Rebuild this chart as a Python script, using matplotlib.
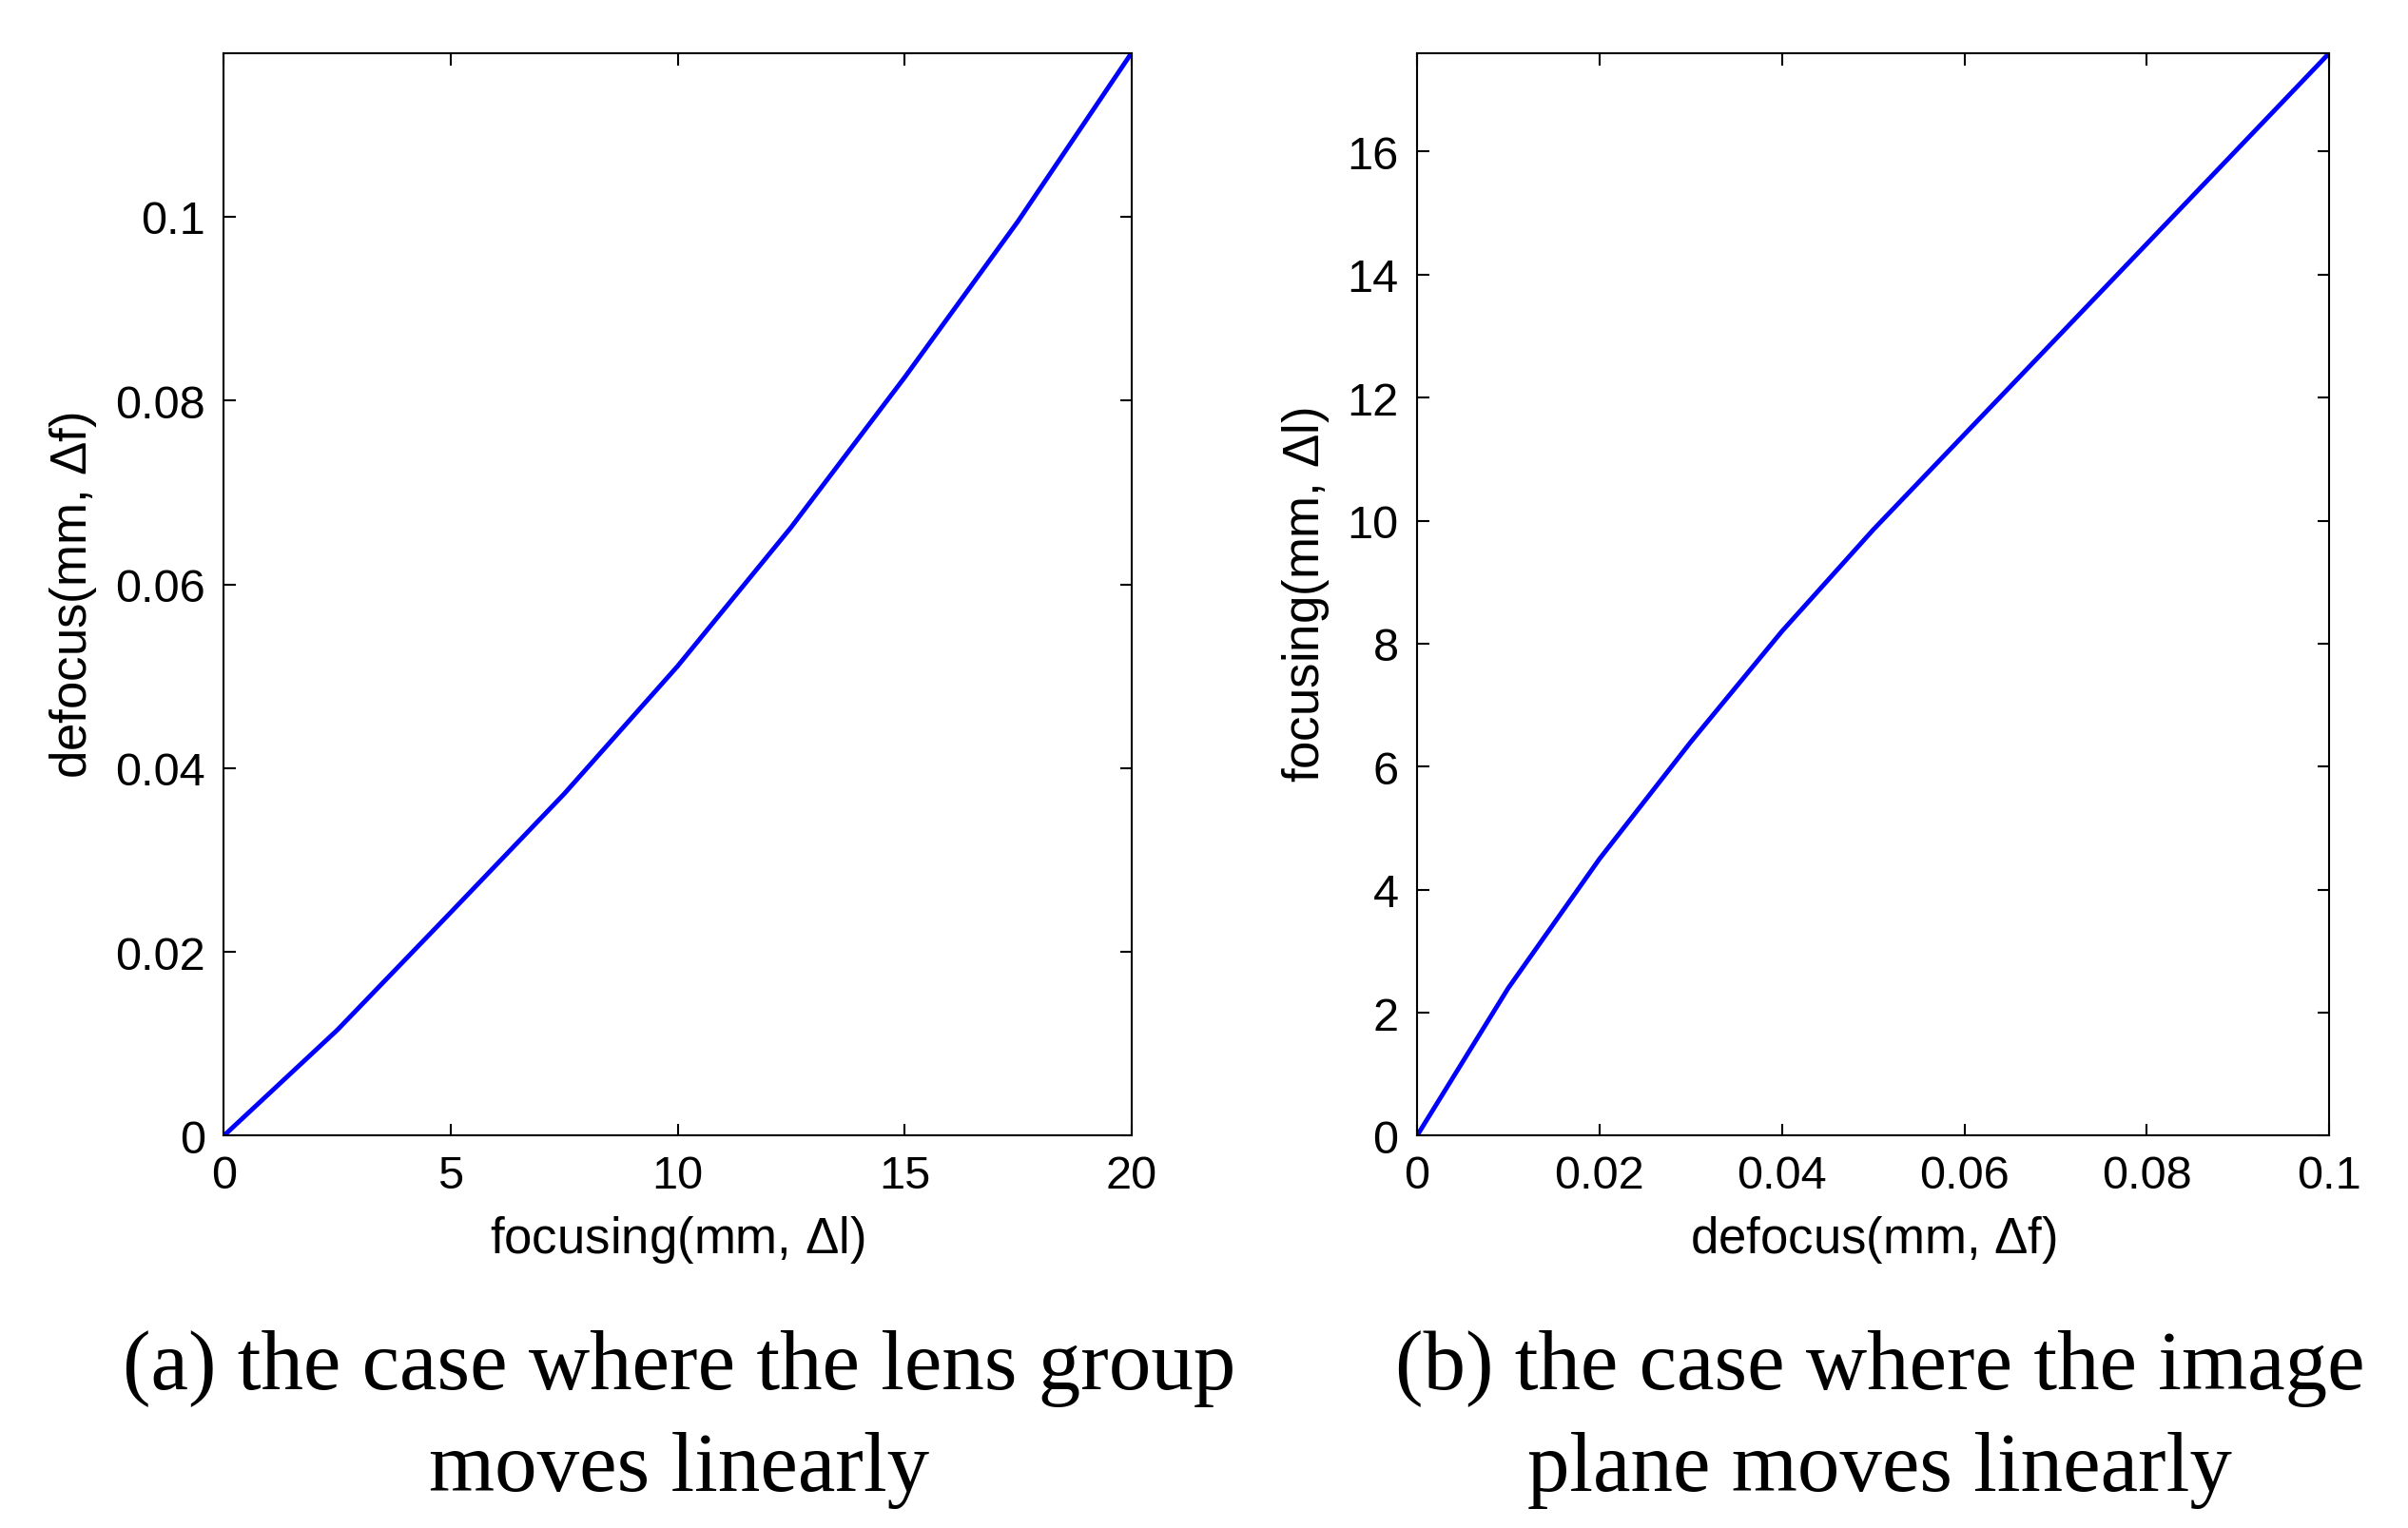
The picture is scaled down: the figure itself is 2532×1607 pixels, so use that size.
import matplotlib.pyplot as plt

# (a) lens group moves linearly
focus_a = [0, 2.5, 5, 7.5, 10, 12.5, 15, 17.5, 20]
defocus_a = [0, 0.0115, 0.0243, 0.0372, 0.0511, 0.0662, 0.0825, 0.0995, 0.1178]

# (b) image plane moves linearly
defocus_b = [0, 0.01, 0.02, 0.03, 0.04, 0.05, 0.06, 0.07, 0.08, 0.09, 0.1]
focus_b = [0, 2.4, 4.5, 6.4, 8.2, 9.85, 11.4, 12.95, 14.5, 16.05, 17.6]

plt.rcParams['font.family'] = ['Liberation Sans', 'DejaVu Sans']
plt.rcParams['mathtext.fontset'] = 'custom'
plt.rcParams['mathtext.rm'] = 'Liberation Sans'
fig = plt.figure(figsize=(25.32, 16.08), dpi=100)
W, H = 1560, 990  # layout measured on the reference view


def box(x0, y0, x1, y1):
    return [x0 / W, 1 - y1 / H, (x1 - x0) / W, (y1 - y0) / H]


def style(ax):
    ax.tick_params(direction='in', top=True, right=True, labelsize=35,
                   length=9, width=1.5, pad=14)
    for s in ax.spines.values():
        s.set_linewidth(1.5)


ax1 = fig.add_axes(box(145, 35, 733, 736))
ax1.plot(focus_a, defocus_a, color='blue', lw=3.5)
ax1.set_xlim(0, 20)
ax1.set_ylim(0, 0.1178)
ax1.set_xticks([0, 5, 10, 15, 20])
ax1.set_yticks([0, 0.02, 0.04, 0.06, 0.08, 0.1])
ax1.set_yticklabels(['0', '0.02', '0.04', '0.06', '0.08', '0.1'])
ax1.set_xlabel('focusing(mm, $\\Delta$l)', fontsize=38, labelpad=12)
ax1.set_ylabel('defocus(mm, $\\Delta$f)', fontsize=38, labelpad=12)
style(ax1)

ax2 = fig.add_axes(box(918, 35, 1509, 736))
ax2.plot(defocus_b, focus_b, color='blue', lw=3.5)
ax2.set_xlim(0, 0.1)
ax2.set_ylim(0, 17.6)
ax2.set_xticks([0, 0.02, 0.04, 0.06, 0.08, 0.1])
ax2.set_xticklabels(['0', '0.02', '0.04', '0.06', '0.08', '0.1'])
ax2.set_yticks(range(0, 17, 2))
ax2.set_xlabel('defocus(mm, $\\Delta$f)', fontsize=38, labelpad=12)
ax2.set_ylabel('focusing(mm, $\\Delta$l)', fontsize=38, labelpad=12)
style(ax2)

cap = dict(fontsize=64, family=['Liberation Serif', 'DejaVu Serif'],
           ha='center', va='center')
fig.text(440 / W, 1 - 886 / H, '(a) the case where the lens group', **cap)
fig.text(440 / W, 1 - 952 / H, 'moves linearly', **cap)
fig.text(1218 / W, 1 - 886 / H, '(b) the case where the image', **cap)
fig.text(1218 / W, 1 - 952 / H, 'plane moves linearly', **cap)

fig.savefig('out.png', dpi=100)
